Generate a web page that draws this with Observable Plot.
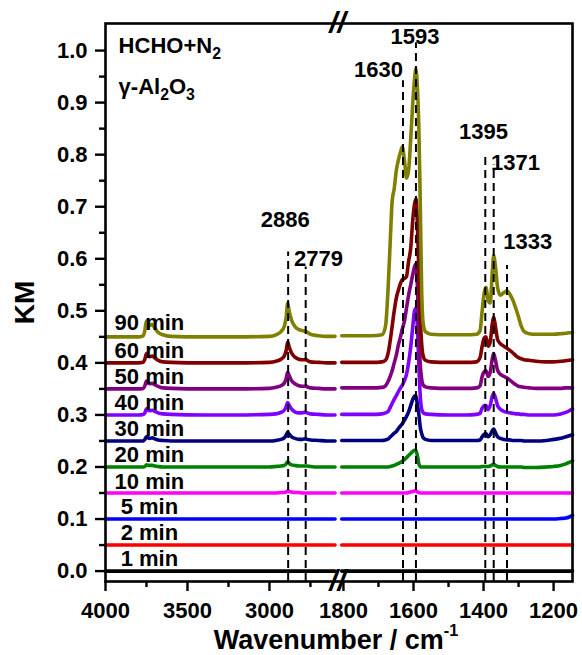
<!DOCTYPE html>
<html><head><meta charset="utf-8">
<script src="https://cdn.jsdelivr.net/npm/d3@7"></script>
<script src="https://cdn.jsdelivr.net/npm/@observablehq/plot@0.6"></script>
<style>
body{margin:0;background:#fff}
#chart{width:582px;height:655px}
</style>
</head><body><div id="chart"></div>
<script>
// ---------- data ----------
const seriesNames  = ["1 min","2 min","5 min","10 min","20 min","30 min","40 min","50 min","60 min","90 min"];
const seriesColors = ["#000000","#ff0000","#0000ff","#ff00ff","#008000","#000080","#8000ff","#800080","#800000","#808000"];

const xTickLabels = [4000,3500,3000,1800,1600,1400,1200];
const xMinorTicks = [3750,3250,2750,1700,1500,1300];
const yTickLabels = [0.0,0.1,0.2,0.3,0.4,0.5,0.6,0.7,0.8,0.9,1.0];
const yMinorTicks = [0.05,0.15,0.25,0.35,0.45,0.55,0.65,0.75,0.85,0.95];

const peakNames = ["2886","2779","1630","1593","1395","1371","1333"];
const peakWN    = [2886,2779,1630,1593,1395,1371,1333];
const peakTop   = [0.613,0.584,0.942,1.015,0.800,0.780,0.587];

// left panel (4000 - 2600 cm-1)
const leftWN = [4000,3900,3800,3770,3760,3750,3740,3730,3715,3700,
                3680,3650,3600,3400,3200,3000,2960,2930,2910,2898,
                2889,2880,2865,2845,2820,2800,2785,2779,2770,2750,
                2700,2650,2600];
const L90 = [0.450,0.450,0.450,0.452,0.462,0.481,0.473,0.472,0.474,0.467,
             0.459,0.454,0.451,0.450,0.450,0.451,0.454,0.460,0.470,0.487,
             0.515,0.500,0.482,0.470,0.464,0.462,0.461,0.461,0.459,0.455,
             0.452,0.451,0.451];
const L60 = [0.400,0.400,0.400,0.401,0.407,0.418,0.413,0.412,0.413,0.410,
             0.405,0.402,0.401,0.400,0.400,0.401,0.403,0.407,0.413,0.424,
             0.440,0.431,0.419,0.411,0.407,0.406,0.406,0.407,0.405,0.402,
             0.401,0.400,0.400];
const L50 = [0.350,0.350,0.350,0.351,0.356,0.365,0.361,0.360,0.361,0.358,
             0.355,0.352,0.351,0.350,0.350,0.351,0.353,0.356,0.361,0.370,
             0.382,0.376,0.366,0.360,0.356,0.355,0.355,0.356,0.354,0.352,
             0.351,0.350,0.350];
const L40 = [0.300,0.300,0.300,0.301,0.304,0.312,0.309,0.308,0.309,0.307,
             0.304,0.302,0.301,0.300,0.300,0.301,0.302,0.305,0.309,0.316,
             0.324,0.319,0.311,0.306,0.304,0.304,0.305,0.305,0.304,0.302,
             0.301,0.300,0.300];
const L30 = [0.250,0.250,0.250,0.250,0.253,0.258,0.256,0.255,0.256,0.254,
             0.252,0.251,0.250,0.250,0.250,0.250,0.251,0.253,0.256,0.261,
             0.267,0.263,0.258,0.255,0.253,0.253,0.254,0.254,0.253,0.252,
             0.251,0.250,0.250];
const L20 = [0.200,0.200,0.200,0.200,0.201,0.204,0.203,0.203,0.203,0.202,
             0.201,0.200,0.200,0.200,0.200,0.200,0.201,0.202,0.203,0.206,
             0.210,0.207,0.204,0.203,0.202,0.202,0.202,0.202,0.202,0.201,
             0.200,0.200,0.200];
const L10 = [0.150,0.150,0.150,0.150,0.150,0.150,0.150,0.150,0.150,0.150,
             0.150,0.150,0.150,0.150,0.150,0.150,0.150,0.151,0.151,0.152,
             0.154,0.153,0.152,0.151,0.151,0.150,0.150,0.150,0.150,0.150,
             0.150,0.150,0.150];
const L5  = [0.100,0.100,0.100,0.100,0.100,0.100,0.100,0.100,0.100,0.100,
             0.100,0.100,0.100,0.100,0.100,0.100,0.100,0.100,0.100,0.100,
             0.100,0.100,0.100,0.100,0.100,0.100,0.100,0.100,0.100,0.100,
             0.100,0.100,0.100];
const L2  = [0.050,0.050,0.050,0.050,0.050,0.050,0.050,0.050,0.050,0.050,
             0.050,0.050,0.050,0.050,0.050,0.050,0.050,0.050,0.050,0.050,
             0.050,0.050,0.050,0.050,0.050,0.050,0.050,0.050,0.050,0.050,
             0.050,0.050,0.050];
const L1  = [0,0,0,0,0,0,0,0,0,0,
             0,0,0,0,0,0,0,0,0,0,
             0,0,0,0,0,0,0,0,0,0,
             0,0,0];

// right panel (1805 - 1146 cm-1)
const rightWN = [1805,1760,1720,1690,1680,1672,1666,1661,1655,1649,
                 1643,1637,1632,1626,1620,1614,1608,1602,1597,1593,
                 1589,1585,1581,1577,1573,1566,1550,1500,1450,1420,
                 1410,1404,1398,1393,1387,1381,1375,1371,1366,1360,
                 1352,1342,1333,1325,1316,1308,1300,1292,1284,1270,
                 1250,1220,1200,1180,1165,1155,1146];
const R90 = [0.452,0.452,0.452,0.454,0.470,0.550,0.640,0.710,0.735,0.770,
             0.790,0.805,0.815,0.790,0.755,0.770,0.830,0.900,0.945,0.965,
             0.930,0.860,0.720,0.550,0.480,0.460,0.455,0.454,0.454,0.455,
             0.462,0.500,0.535,0.545,0.520,0.515,0.575,0.606,0.585,0.545,
             0.530,0.535,0.538,0.532,0.520,0.505,0.488,0.470,0.460,0.456,
             0.455,0.455,0.455,0.456,0.457,0.458,0.458];
const R60 = [0.401,0.401,0.401,0.402,0.405,0.420,0.445,0.470,0.500,0.525,
             0.540,0.553,0.560,0.562,0.566,0.595,0.620,0.675,0.705,0.715,
             0.670,0.580,0.490,0.440,0.415,0.405,0.402,0.401,0.401,0.402,
             0.410,0.432,0.448,0.450,0.432,0.440,0.475,0.488,0.470,0.445,
             0.437,0.432,0.428,0.424,0.419,0.414,0.410,0.408,0.406,0.405,
             0.403,0.402,0.402,0.403,0.404,0.405,0.406];
const R50 = [0.352,0.352,0.352,0.353,0.356,0.365,0.375,0.385,0.400,0.415,
             0.435,0.450,0.465,0.480,0.505,0.530,0.550,0.570,0.585,0.590,
             0.550,0.470,0.400,0.370,0.358,0.354,0.352,0.351,0.351,0.352,
             0.356,0.374,0.383,0.385,0.374,0.382,0.408,0.418,0.405,0.386,
             0.378,0.374,0.371,0.367,0.362,0.358,0.355,0.354,0.353,0.352,
             0.351,0.351,0.351,0.351,0.352,0.352,0.352];
const R40 = [0.301,0.301,0.301,0.302,0.304,0.307,0.315,0.322,0.330,0.337,
             0.345,0.352,0.357,0.366,0.378,0.400,0.430,0.470,0.500,0.505,
             0.470,0.400,0.340,0.312,0.305,0.302,0.301,0.300,0.300,0.301,
             0.303,0.313,0.318,0.318,0.310,0.318,0.336,0.341,0.333,0.318,
             0.311,0.307,0.305,0.304,0.303,0.302,0.302,0.301,0.301,0.300,
             0.300,0.300,0.300,0.302,0.305,0.308,0.312];
const R30 = [0.251,0.251,0.251,0.251,0.252,0.254,0.258,0.261,0.265,0.268,
             0.274,0.279,0.283,0.290,0.297,0.306,0.318,0.330,0.336,0.337,
             0.320,0.303,0.278,0.265,0.257,0.253,0.251,0.251,0.251,0.251,
             0.252,0.258,0.263,0.264,0.258,0.262,0.270,0.273,0.266,0.258,
             0.255,0.253,0.252,0.252,0.251,0.251,0.251,0.251,0.250,0.250,
             0.250,0.251,0.253,0.255,0.258,0.260,0.262];
const R20 = [0.200,0.200,0.200,0.200,0.200,0.200,0.201,0.202,0.203,0.205,
             0.207,0.209,0.211,0.214,0.218,0.222,0.226,0.230,0.232,0.231,
             0.222,0.207,0.201,0.200,0.200,0.200,0.200,0.200,0.200,0.200,
             0.200,0.201,0.201,0.201,0.201,0.202,0.204,0.205,0.203,0.201,
             0.200,0.200,0.200,0.200,0.200,0.200,0.200,0.200,0.199,0.199,
             0.199,0.200,0.201,0.203,0.206,0.209,0.212];
const R10 = [0.150,0.150,0.150,0.150,0.150,0.150,0.150,0.150,0.150,0.150,
             0.150,0.150,0.150,0.150,0.150,0.151,0.152,0.153,0.154,0.154,
             0.152,0.151,0.150,0.150,0.150,0.150,0.150,0.150,0.150,0.150,
             0.150,0.150,0.150,0.150,0.150,0.150,0.150,0.150,0.150,0.150,
             0.150,0.150,0.150,0.150,0.150,0.150,0.150,0.150,0.150,0.150,
             0.150,0.150,0.150,0.150,0.150,0.150,0.150];
const R5  = [0.100,0.100,0.100,0.100,0.100,0.100,0.100,0.100,0.100,0.100,
             0.100,0.100,0.100,0.100,0.100,0.100,0.100,0.100,0.100,0.100,
             0.100,0.100,0.100,0.100,0.100,0.100,0.100,0.100,0.100,0.100,
             0.100,0.100,0.100,0.100,0.100,0.100,0.100,0.100,0.100,0.100,
             0.100,0.100,0.100,0.100,0.100,0.100,0.100,0.100,0.100,0.100,
             0.100,0.100,0.100,0.101,0.102,0.104,0.107];
const R2  = [0.050,0.050,0.050,0.050,0.050,0.050,0.050,0.050,0.050,0.050,
             0.050,0.050,0.050,0.050,0.050,0.050,0.050,0.050,0.050,0.050,
             0.050,0.050,0.050,0.050,0.050,0.050,0.050,0.050,0.050,0.050,
             0.050,0.050,0.050,0.050,0.050,0.050,0.050,0.050,0.050,0.050,
             0.050,0.050,0.050,0.050,0.050,0.050,0.050,0.050,0.050,0.050,
             0.050,0.050,0.050,0.050,0.050,0.050,0.050];
const R1  = [0,0,0,0,0,0,0,0,0,0,
             0,0,0,0,0,0,0,0,0,0,
             0,0,0,0,0,0,0,0,0,0,
             0,0,0,0,0,0,0,0,0,0,
             0,0,0,0,0,0,0,0,0,0,
             0,0,0,0,0,0,0];

const leftVals  = [L1,L2,L5,L10,L20,L30,L40,L50,L60,L90];
const rightVals = [R1,R2,R5,R10,R20,R30,R40,R50,R60,R90];

// ---------- layout ----------
const FONT = "'Liberation Sans', Arial, Helvetica, sans-serif";
const FS = 22;
const seriesLabelY = [0.009,0.060,0.110,0.158,0.209,0.260,0.309,0.3585,0.410,0.4635];
const peakLabelX = [2904,2701,1700,1596,1400,1309,1274];
const peakLabelY = [0.661,0.587,0.950,1.013,0.831,0.771,0.618];

const rows = [];
seriesNames.forEach((s, i) => {
  leftWN.forEach((w, j) => rows.push({series: s, panel: "L", wn: w, km: leftVals[i][j]}));
  rightWN.forEach((w, j) => rows.push({series: s, panel: "R", wn: w, km: rightVals[i][j]}));
});

const lineMarks = seriesNames.map((s, i) =>
  Plot.line(rows.filter(r => r.series === s), {
    x: "wn", y: "km", z: "panel", stroke: seriesColors[i],
    strokeWidth: 3.6, curve: "monotone-x", strokeLinejoin: "round"
  })
);

const peaks = peakNames.map((n, i) => ({name: n, wn: peakWN[i], top: peakTop[i], lx: peakLabelX[i], ly: peakLabelY[i]}));

const chart = Plot.plot({
  width: 582, height: 655,
  marginLeft: 105, marginRight: 10, marginTop: 23, marginBottom: 74,
  style: {fontFamily: FONT, color: "#000", background: "#fff"},
  x: {type: "linear", domain: [4000, 2585, 1817, 1146], range: [105, 337, 337, 572]},
  y: {domain: [-0.02, 1.052]},
  marks: [
    ...lineMarks,
    Plot.ruleX(peaks, {x: "wn", y1: -0.02, y2: "top", stroke: "#000", strokeWidth: 2, strokeDasharray: "8,5"}),
    Plot.frame({stroke: "#000", strokeWidth: 2.6}),
    Plot.axisY({ticks: yTickLabels, tickFormat: d3.format(".1f"), tickSize: 10, tickPadding: 8,
      fontSize: FS, fontWeight: "bold", strokeWidth: 2.4, label: null}),
    Plot.axisY({ticks: yMinorTicks, tickFormat: () => "", tickSize: 6, strokeWidth: 2.4, label: null}),
    Plot.axisX({ticks: xTickLabels, tickFormat: d => String(d), tickSize: 10, tickPadding: 11,
      fontSize: FS, fontWeight: "bold", strokeWidth: 2.4, label: null}),
    Plot.axisX({ticks: xMinorTicks, tickFormat: () => "", tickSize: 6, strokeWidth: 2.4, label: null}),
    Plot.text(peaks, {x: "lx", y: "ly", text: "name", lineAnchor: "bottom", textAnchor: "middle",
      fontSize: FS, fontWeight: "bold", fill: "#000"}),
    Plot.text(seriesNames, {x: () => 3732, y: (d, i) => seriesLabelY[i], lineAnchor: "bottom", textAnchor: "middle",
      fontSize: FS, fontWeight: "bold", fill: "#000"}),
    Plot.text(["HCHO+N_{2}", "γ-Al_{2}O_{3}"], {x: () => 3920, y: (d, i) => [0.996, 0.917][i],
      lineAnchor: "bottom", textAnchor: "start", fontSize: FS, fontWeight: "bold", fill: "#000"}),
    Plot.text(["//", "//"], {x: () => 2200, y: (d, i) => [1.052, -0.02][i], lineAnchor: "middle", textAnchor: "middle",
      fontSize: 30, fontWeight: "bold", fontStyle: "italic", fill: "#000"}),
    Plot.text(["KM"], {frameAnchor: "left", dx: -80, rotate: -90, textAnchor: "middle", lineAnchor: "middle",
      fontSize: 28, fontWeight: "bold", fill: "#000"}),
    Plot.text(["Wavenumber / cm^{-1}"], {frameAnchor: "bottom", dx: -3, dy: 67, lineAnchor: "bottom", textAnchor: "middle",
      fontSize: 27, fontWeight: "bold", fill: "#000"})
  ]
});

// rich text: subscripts and superscripts as tspans
(function richText(svg) {
  const ns = "http://www.w3.org/2000/svg";
  const getFS = el => {
    for (let n = el; n && n.getAttribute; n = n.parentNode) {
      const v = n.getAttribute("font-size");
      if (v) return parseFloat(v);
    }
    return FS;
  };
  svg.querySelectorAll("text").forEach(t => {
    const s = t.textContent;
    if (!/[_^]\{/.test(s)) return;
    const fs = getFS(t);
    while (t.firstChild) t.removeChild(t.firstChild);
    const re = /([_^])\{([^}]*)\}/g;
    let last = 0, m, cur = 0;
    const push = (str, dy, size) => {
      const ts = document.createElementNS(ns, "tspan");
      ts.textContent = str;
      if (dy) ts.setAttribute("dy", dy.toFixed(2));
      if (size) ts.setAttribute("font-size", size.toFixed(1));
      t.appendChild(ts);
    };
    while ((m = re.exec(s))) {
      if (m.index > last) { push(s.slice(last, m.index), -cur, 0); cur = 0; }
      const sub = m[1] === "_";
      const shift = sub ? 0.3 * fs : -0.45 * fs;
      push(m[2], shift - cur, (sub ? 0.72 : 0.6) * fs);
      cur = shift;
      last = re.lastIndex;
    }
    if (last < s.length) push(s.slice(last), -cur, 0);
  });
})(chart);

document.getElementById("chart").appendChild(chart);
</script>
</body></html>
